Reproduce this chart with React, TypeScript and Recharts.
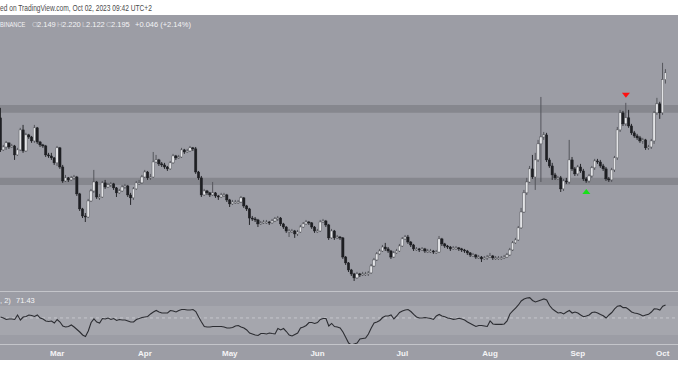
import {
  Bar,
  ComposedChart,
  Line,
  ReferenceArea,
  ReferenceLine,
  Scatter,
  XAxis,
  YAxis,
} from "recharts";

// daily candles, Feb 9 -> Oct 2 2023 (open = previous close)
const firstOpen = 1.889;

const closes = [
  1.671, 1.691, 1.719, 1.691, 1.698, 1.637, 1.671, 1.807, 1.664, 1.773,
  1.759, 1.732, 1.821, 1.725, 1.705, 1.698, 1.637, 1.63, 1.617, 1.583,
  1.685, 1.555, 1.46, 1.481, 1.467, 1.481, 1.487, 1.372, 1.27, 1.222,
  1.215, 1.324, 1.392, 1.453, 1.351, 1.351, 1.447, 1.419, 1.433, 1.44,
  1.413, 1.379, 1.392, 1.419, 1.426, 1.365, 1.345, 1.406, 1.447, 1.447,
  1.487, 1.521, 1.481, 1.487, 1.589, 1.603, 1.576, 1.569, 1.555, 1.542,
  1.583, 1.63, 1.617, 1.623, 1.671, 1.657, 1.664, 1.685, 1.678, 1.521,
  1.481, 1.365, 1.392, 1.379, 1.365, 1.379, 1.358, 1.351, 1.365, 1.365,
  1.331, 1.304, 1.317, 1.317, 1.317, 1.345, 1.29, 1.27, 1.208, 1.202,
  1.195, 1.168, 1.175, 1.181, 1.181, 1.175, 1.188, 1.202, 1.208, 1.168,
  1.147, 1.12, 1.12, 1.12, 1.1, 1.113, 1.147, 1.168, 1.181, 1.175,
  1.147, 1.12, 1.12, 1.181, 1.188, 1.161, 1.073, 1.12, 1.073, 1.079,
  1.073, 0.943, 0.903, 0.855, 0.828, 0.801, 0.828, 0.821, 0.828, 0.828,
  0.835, 0.882, 0.923, 0.964, 0.984, 1.011, 0.998, 0.984, 0.943, 0.971,
  0.984, 1.018, 1.066, 1.079, 1.045, 1.025, 0.998, 0.998, 0.991, 0.998,
  0.984, 0.984, 0.984, 0.977, 0.977, 1.066, 1.032, 1.018, 1.011, 0.998,
  1.005, 1.005, 0.998, 0.991, 0.984, 0.971, 0.957, 0.957, 0.943, 0.943,
  0.93, 0.937, 0.943, 0.95, 0.937, 0.937, 0.937, 0.937, 0.943, 0.957,
  0.991, 1.039, 1.059, 1.141, 1.249, 1.379, 1.453, 1.542, 1.487, 1.603,
  1.712, 1.759, 1.773, 1.603, 1.562, 1.501, 1.481, 1.481, 1.406, 1.46,
  1.453, 1.603, 1.542, 1.508, 1.555, 1.528, 1.474, 1.46, 1.494, 1.549,
  1.596, 1.589, 1.562, 1.542, 1.474, 1.467, 1.535, 1.617, 1.807, 1.923,
  1.848, 1.889, 1.834, 1.787, 1.766, 1.753, 1.732, 1.739, 1.685, 1.691,
  1.732, 1.923, 1.984, 1.923, 2.149, 2.195,
];

const highs = [
  1.957, 1.705, 1.732, 1.719, 1.712, 1.705, 1.685, 1.821, 1.841, 1.787,
  1.78, 1.766, 1.841, 1.827, 1.732, 1.712, 1.705, 1.651, 1.651, 1.623,
  1.698, 1.691, 1.569, 1.501, 1.487, 1.494, 1.501, 1.494, 1.379, 1.277,
  1.242, 1.338, 1.406, 1.535, 1.46, 1.372, 1.46, 1.467, 1.447, 1.453,
  1.447, 1.419, 1.406, 1.433, 1.44, 1.433, 1.379, 1.419, 1.46, 1.467,
  1.501, 1.535, 1.528, 1.508, 1.657, 1.637, 1.61, 1.589, 1.583, 1.562,
  1.596, 1.644, 1.637, 1.637, 1.685, 1.678, 1.678, 1.698, 1.691, 1.691,
  1.528, 1.494, 1.406, 1.399, 1.385, 1.453, 1.385, 1.365, 1.379, 1.379,
  1.372, 1.338, 1.331, 1.331, 1.331, 1.358, 1.351, 1.297, 1.277, 1.222,
  1.215, 1.202, 1.188, 1.195, 1.195, 1.188, 1.202, 1.215, 1.222, 1.215,
  1.175, 1.154, 1.134, 1.134, 1.127, 1.127, 1.161, 1.181, 1.195, 1.188,
  1.181, 1.154, 1.134, 1.195, 1.202, 1.195, 1.168, 1.134, 1.127, 1.093,
  1.086, 1.079, 0.95, 0.909, 0.862, 0.835, 0.842, 0.835, 0.842, 0.842,
  0.848, 0.896, 0.937, 0.977, 0.998, 1.025, 1.039, 1.011, 0.991, 0.984,
  0.998, 1.032, 1.079, 1.093, 1.093, 1.052, 1.032, 1.011, 1.005, 1.011,
  1.005, 0.998, 0.998, 0.991, 0.991, 1.086, 1.073, 1.039, 1.025, 1.018,
  1.018, 1.018, 1.011, 1.005, 0.998, 0.991, 0.977, 0.971, 0.964, 0.957,
  0.95, 0.95, 0.957, 0.971, 0.957, 0.95, 0.95, 0.95, 0.957, 0.971,
  1.005, 1.052, 1.073, 1.154, 1.277, 1.399, 1.481, 1.562, 1.637, 1.651,
  1.739, 2.031, 1.793, 1.787, 1.617, 1.583, 1.515, 1.494, 1.494, 1.474,
  1.481, 1.739, 1.623, 1.555, 1.569, 1.576, 1.542, 1.487, 1.508, 1.562,
  1.61, 1.61, 1.603, 1.576, 1.555, 1.487, 1.549, 1.63, 1.827, 1.943,
  1.936, 1.991, 1.943, 1.848, 1.8, 1.78, 1.766, 1.753, 1.746, 1.705,
  1.746, 1.936, 2.025, 1.998, 2.263, 2.22,
];

const lows = [
  1.657, 1.664, 1.671, 1.678, 1.685, 1.603, 1.63, 1.664, 1.651, 1.657,
  1.746, 1.719, 1.719, 1.712, 1.691, 1.685, 1.623, 1.617, 1.603, 1.569,
  1.562, 1.542, 1.447, 1.453, 1.453, 1.46, 1.467, 1.358, 1.256, 1.208,
  1.181, 1.208, 1.317, 1.379, 1.338, 1.331, 1.345, 1.406, 1.413, 1.419,
  1.399, 1.351, 1.372, 1.385, 1.406, 1.351, 1.297, 1.331, 1.399, 1.433,
  1.44, 1.481, 1.467, 1.467, 1.481, 1.583, 1.562, 1.555, 1.542, 1.528,
  1.535, 1.576, 1.603, 1.61, 1.617, 1.644, 1.651, 1.657, 1.664, 1.508,
  1.467, 1.351, 1.358, 1.365, 1.351, 1.358, 1.345, 1.331, 1.345, 1.351,
  1.317, 1.283, 1.297, 1.304, 1.304, 1.31, 1.277, 1.256, 1.161, 1.188,
  1.181, 1.147, 1.161, 1.168, 1.168, 1.161, 1.168, 1.181, 1.188, 1.154,
  1.134, 1.107, 1.079, 1.107, 1.073, 1.086, 1.107, 1.141, 1.161, 1.161,
  1.134, 1.107, 1.107, 1.113, 1.175, 1.147, 1.059, 1.066, 1.059, 1.066,
  1.059, 0.93, 0.889, 0.841, 0.814, 0.78, 0.794, 0.807, 0.814, 0.814,
  0.814, 0.828, 0.875, 0.916, 0.957, 0.977, 0.984, 0.971, 0.93, 0.937,
  0.964, 0.977, 1.011, 1.059, 1.032, 1.011, 0.984, 0.984, 0.977, 0.984,
  0.971, 0.971, 0.971, 0.964, 0.964, 0.971, 1.018, 1.005, 0.998, 0.984,
  0.991, 0.991, 0.984, 0.977, 0.971, 0.957, 0.943, 0.943, 0.93, 0.93,
  0.909, 0.923, 0.923, 0.937, 0.923, 0.923, 0.923, 0.923, 0.93, 0.937,
  0.95, 0.984, 1.032, 1.052, 1.134, 1.243, 1.365, 1.447, 1.474, 1.399,
  1.589, 1.453, 1.739, 1.589, 1.549, 1.467, 1.467, 1.467, 1.385, 1.392,
  1.44, 1.44, 1.528, 1.494, 1.494, 1.515, 1.46, 1.447, 1.447, 1.481,
  1.535, 1.576, 1.549, 1.528, 1.46, 1.453, 1.453, 1.521, 1.603, 1.793,
  1.834, 1.834, 1.821, 1.773, 1.753, 1.739, 1.719, 1.712, 1.671, 1.671,
  1.678, 1.712, 1.909, 1.882, 1.909, 2.122,
];

// RSI(14)
const rsi = [
  54.8, 53.4, 51.4, 52.1, 52.1, 51.4, 57.6, 50.7, 54.8, 55.5,
  57.6, 56.9, 55.5, 57.6, 53.4, 52.1, 49.3, 48.6, 49.3, 46.5,
  51.4, 47.9, 42.4, 41, 41.7, 43.8, 41, 37.6, 34.1, 30,
  27.9, 35.5, 47.2, 52.1, 47.9, 46.5, 52.7, 52.1, 53.4, 51.4,
  52.7, 50, 51.4, 50.7, 50.7, 49.3, 47.9, 47.9, 51.4, 52.7,
  54.1, 54.8, 55.5, 59, 61.7, 63.8, 61.7, 60.3, 60.3, 60.3,
  63.8, 63.1, 61.7, 63.8, 65.2, 65.2, 64.5, 64.5, 65.2, 62.4,
  54.8, 47.9, 41.7, 41, 41, 41.7, 41.7, 41.7, 41.7, 41,
  39.6, 39.6, 40.3, 42.4, 43.1, 41, 39.6, 36.9, 32.7, 31.4,
  30, 29.3, 32, 32, 31.4, 32.7, 32, 31.4, 38.9, 36.9,
  38.9, 34.8, 30, 28.6, 30.7, 32.7, 39.6, 41, 43.1, 47.2,
  47.2, 45.9, 47.2, 51.4, 52.7, 52.7, 42.4, 45.9, 41.7, 41,
  39.6, 34.1, 26.6, 18.9, 16.2, 17.6, 18.9, 24.5, 25.2, 25.8,
  31.4, 39.6, 46.5, 47.9, 50, 54.1, 56.2, 56.2, 57.6, 52.1,
  56.2, 61, 63.1, 64.5, 65.2, 62.4, 58.3, 54.8, 53.4, 53.4,
  54.1, 53.4, 52.7, 51.4, 56.2, 58.3, 56.2, 55.2, 53.4, 52.7,
  51.6, 52.1, 53, 52.1, 50.7, 47.9, 45.9, 43.8, 41.7, 43.1,
  43.1, 42.4, 41.7, 49.3, 45.2, 44.7, 44.7, 44.7, 45.2, 49.3,
  59, 63.1, 67.2, 71.4, 76.9, 79.7, 81.1, 81.5, 77.6, 75.5,
  76.9, 78.3, 79.7, 78.3, 70.7, 65.9, 63.1, 60.3, 61, 59,
  61.7, 63.8, 60.3, 61.7, 60.3, 57.6, 55.2, 56.2, 57.6, 61,
  61.7, 60.3, 58.3, 56.6, 53.4, 57.6, 61, 65.9, 69.7, 70.4,
  67.7, 67.7, 65.2, 61.7, 60.3, 59.6, 58.3, 56.2, 57.6, 58.5,
  61.7, 66.1, 65.9, 64.5, 69.7, 71.43,
];

const monthTicks = [20, 51, 81, 112, 142, 173, 204, 234];
const monthNames = ["Mar", "Apr", "May", "Jun", "Jul", "Aug", "Sep", "Oct"];

const resistanceZone = [1.923, 1.977];
const supportZone = [1.433, 1.481];

const sellSignals = [{ i: 221, price: 2.042 }];
const buySignals = [{ i: 207, price: 1.389 }];

const candles = closes.map((close, i) => ({
  i,
  open: i === 0 ? firstOpen : closes[i - 1],
  close,
  high: highs[i],
  low: lows[i],
  rsi: rsi[i],
}));

const X_DOMAIN: [number, number] = [-0.2, 239.4];
const BG = "#9c9da5";
const FONT = "'Liberation Sans', Arial, sans-serif";

function Candle(props: any) {
  const { x, y, width, height, payload } = props;
  const { open, close, high, low } = payload;
  const top = height < 0 ? y + height : y;
  const h = Math.abs(height);
  const ratio = high === low ? 0 : h / (high - low);
  const cx = x + width / 2;
  const py = (v: number) => top + (high - v) * ratio;
  const bodyTop = py(Math.max(open, close));
  const bodyH = Math.max(1, py(Math.min(open, close)) - bodyTop);
  const up = close >= open;
  return (
    <g>
      <line x1={cx} x2={cx} y1={top} y2={top + h} stroke={up ? "#55565c" : "#26272b"} strokeWidth={1} />
      <rect
        x={cx - 1.2}
        y={bodyTop}
        width={2.4}
        height={bodyH}
        fill={up ? "#e2e3e6" : "#1e1f23"}
        stroke={up ? "#45464b" : "#1e1f23"}
        strokeWidth={0.4}
      />
    </g>
  );
}

function Triangle(props: any) {
  const { cx, cy, down } = props;
  const d = down
    ? `M${cx - 4},${cy - 2.5} L${cx + 4},${cy - 2.5} L${cx},${cy + 2.5} Z`
    : `M${cx - 4},${cy + 2.5} L${cx + 4},${cy + 2.5} L${cx},${cy - 2.5} Z`;
  return <path d={d} fill={down ? "#ff1010" : "#18e018"} />;
}

const label = (left: number, top: number, color: string, text: string, squeeze = 1) => (
  <span
    style={{
      position: "absolute",
      left,
      top,
      color,
      whiteSpace: "nowrap",
      transform: `scaleX(${squeeze})`,
      transformOrigin: "0 0",
    }}
  >
    {text}
  </span>
);

export default function App() {
  const last = candles[candles.length - 1];
  const change = last.close - last.open;
  const pct = (change / last.open) * 100;
  const dim = "#c9cace";
  const bright = "#f3f3f5";

  return (
    <div
      style={{
        position: "absolute",
        left: 0,
        top: 0,
        width: 678,
        height: 381,
        background: "#ffffff",
        overflow: "hidden",
        fontFamily: FONT,
      }}
    >
      <div
        style={{
          position: "absolute",
          left: 0,
          top: 3,
          fontSize: 8.5,
          color: "#4a4a4a",
          whiteSpace: "nowrap",
          transform: "scaleX(0.78)",
          transformOrigin: "0 0",
        }}
      >
        ed on TradingView.com, Oct 02, 2023 09:42 UTC+2
      </div>
      <div style={{ position: "absolute", left: 0, top: 15, width: 678, height: 345, background: BG }} />

      <div style={{ position: "absolute", left: 0, top: 15 }}>
        <ComposedChart width={678} height={276} data={candles} margin={{ top: 0, right: 0, bottom: 0, left: 0 }}>
          <XAxis dataKey="i" type="number" domain={X_DOMAIN} allowDataOverflow hide />
          <YAxis domain={[0.712, 2.588]} allowDataOverflow hide />
          <ReferenceArea y1={resistanceZone[0]} y2={resistanceZone[1]} fill="#86878e" fillOpacity={1} stroke="none" />
          <ReferenceArea y1={supportZone[0]} y2={supportZone[1]} fill="#86878e" fillOpacity={1} stroke="none" />
          <Bar dataKey={(d: any) => [d.low, d.high]} barSize={3} shape={<Candle />} isAnimationActive={false} />
          <Scatter data={sellSignals} dataKey="price" shape={<Triangle down />} isAnimationActive={false} />
          <Scatter data={buySignals} dataKey="price" shape={<Triangle />} isAnimationActive={false} />
        </ComposedChart>
      </div>

      <div style={{ position: "absolute", left: 0, top: 20, width: 678, height: 12, fontSize: 7.5 }}>
        {label(0, 0, bright, "BINANCE", 0.76)}
        {label(32, 0, dim, "O")}
        {label(37, 0, bright, last.open.toFixed(3))}
        {label(57, 0, dim, "H")}
        {label(62, 0, bright, last.high.toFixed(3))}
        {label(82, 0, dim, "L")}
        {label(86, 0, bright, last.low.toFixed(3))}
        {label(106, 0, dim, "C")}
        {label(111, 0, bright, last.close.toFixed(3))}
        {label(135, 0, bright, `+${change.toFixed(3)} (+${pct.toFixed(2)}%)`)}
      </div>

      <div style={{ position: "absolute", left: 0, top: 291, width: 678, height: 1, background: "#c4c5ca" }} />

      <div style={{ position: "absolute", left: 0, top: 292 }}>
        <ComposedChart width={678} height={68} data={candles} margin={{ top: 0, right: 0, bottom: 0, left: 0 }}>
          <XAxis
            dataKey="i"
            type="number"
            domain={X_DOMAIN}
            allowDataOverflow
            ticks={monthTicks}
            tickFormatter={(v: number) => monthNames[monthTicks.indexOf(v)]}
            axisLine={false}
            tickLine={false}
            tickMargin={0}
            height={16}
            tick={{ fill: "#f4f4f6", fontSize: 8, fontWeight: 700, fontFamily: FONT }}
          />
          <YAxis domain={[17.56, 89.3]} allowDataOverflow hide />
          <ReferenceArea y1={30} y2={70} fill="#a5a6ad" fillOpacity={1} stroke="none" />
          <ReferenceLine y={53.5} stroke="#c6c7cc" strokeDasharray="3 3" />
          <Line dataKey="rsi" stroke="#2c2d32" strokeWidth={1.1} dot={false} isAnimationActive={false} />
        </ComposedChart>
      </div>

      <div style={{ position: "absolute", left: 0, top: 296, width: 100, height: 12, fontSize: 7.5 }}>
        {label(0, 0, bright, ", 2)")}
        {label(16, 0, bright, rsi[rsi.length - 1].toFixed(2))}
      </div>

      <div style={{ position: "absolute", left: 0, top: 344, width: 678, height: 1, background: "#c4c5ca" }} />
    </div>
  );
}
